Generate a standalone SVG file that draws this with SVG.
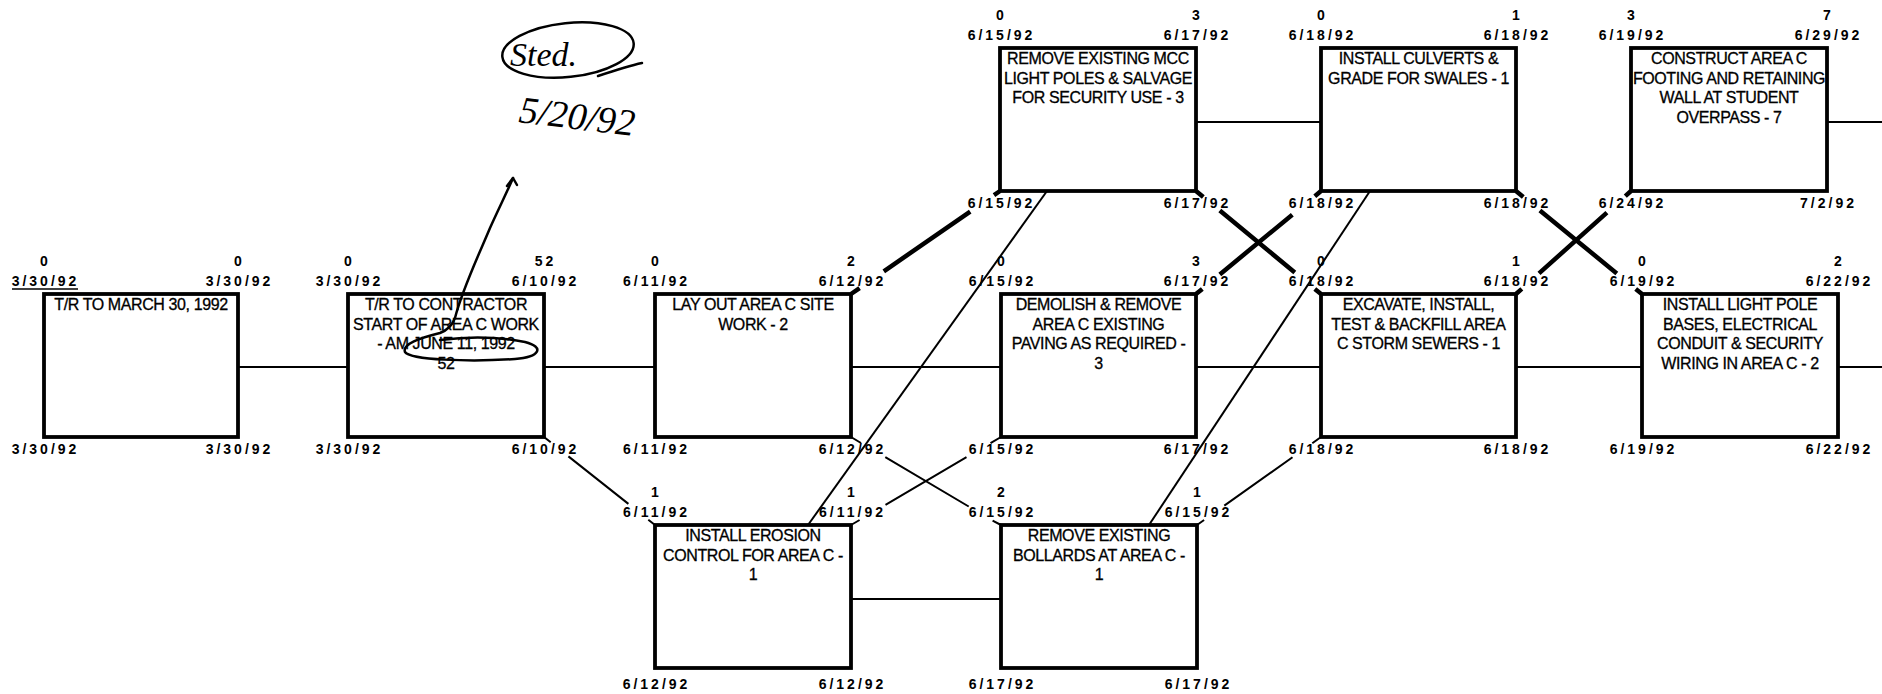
<svg xmlns="http://www.w3.org/2000/svg" width="1882" height="694" viewBox="0 0 1882 694">
<style>
.bg{fill:#fff}
.box{fill:#fff;stroke:#000;stroke-width:3.8}
.t{font-family:"Liberation Sans",Arial,sans-serif;font-size:16px;letter-spacing:-0.4px;text-anchor:middle;fill:#000;stroke:#000;stroke-width:0.3}
.d{font-family:"Liberation Sans",Arial,sans-serif;font-size:14px;font-weight:bold;letter-spacing:3px;text-anchor:middle;fill:#000}
.c{fill:none;stroke:#000;stroke-width:2}
.k{fill:none;stroke:#000;stroke-width:4.5}
.hw{fill:none;stroke:#000;stroke-width:2.5;stroke-linecap:round;stroke-linejoin:round}
.hwt{font-family:"Liberation Serif",serif;font-style:italic;fill:#000}
</style>
<rect class="bg" x="0" y="0" width="1882" height="694"/>

<g id="n1">
<rect class="box" x="44" y="294" width="194" height="143"/>
<text class="t" x="141" y="310">T/R TO MARCH 30, 1992</text>
<text class="d" x="45.5" y="266">0</text><text class="d" x="45.5" y="286">3/30/92</text>
<line x1="12" y1="289" x2="78" y2="289" stroke="#000" stroke-width="1.5"/>
<text class="d" x="239.5" y="266">0</text><text class="d" x="239.5" y="286">3/30/92</text>
<text class="d" x="45.5" y="454">3/30/92</text><text class="d" x="239.5" y="454">3/30/92</text>
</g>

<g id="n2">
<rect class="box" x="348" y="294" width="196" height="143"/>
<text class="t" x="446" y="310">T/R TO CONTRACTOR</text>
<text class="t" x="446" y="329.5">START OF AREA C WORK</text>
<text class="t" x="446" y="349">- AM JUNE 11, 1992</text>
<text class="t" x="446" y="368.5">52</text>
<text class="d" x="349.5" y="266">0</text><text class="d" x="349.5" y="286">3/30/92</text>
<text class="d" x="545.5" y="266">52</text><text class="d" x="545.5" y="286">6/10/92</text>
<text class="d" x="349.5" y="454">3/30/92</text><text class="d" x="545.5" y="454">6/10/92</text>
</g>

<g id="n3">
<rect class="box" x="655" y="294" width="196" height="143"/>
<text class="t" x="753" y="310">LAY OUT AREA C SITE</text>
<text class="t" x="753" y="329.5">WORK - 2</text>
<text class="d" x="656.5" y="266">0</text><text class="d" x="656.5" y="286">6/11/92</text>
<text class="d" x="852.5" y="266">2</text><text class="d" x="852.5" y="286">6/12/92</text>
<text class="d" x="656.5" y="454">6/11/92</text><text class="d" x="852.5" y="454">6/12/92</text>
</g>

<g id="n4">
<rect class="box" x="1001" y="294" width="195" height="143"/>
<text class="t" x="1098.5" y="310">DEMOLISH &amp; REMOVE</text>
<text class="t" x="1098.5" y="329.5">AREA C EXISTING</text>
<text class="t" x="1098.5" y="349">PAVING AS REQUIRED -</text>
<text class="t" x="1098.5" y="368.5">3</text>
<text class="d" x="1002.5" y="266">0</text><text class="d" x="1002.5" y="286">6/15/92</text>
<text class="d" x="1197.5" y="266">3</text><text class="d" x="1197.5" y="286">6/17/92</text>
<text class="d" x="1002.5" y="454">6/15/92</text><text class="d" x="1197.5" y="454">6/17/92</text>
</g>

<g id="n5">
<rect class="box" x="1321" y="294" width="195" height="143"/>
<text class="t" x="1418.5" y="310">EXCAVATE, INSTALL,</text>
<text class="t" x="1418.5" y="329.5">TEST &amp; BACKFILL AREA</text>
<text class="t" x="1418.5" y="349">C STORM SEWERS - 1</text>
<text class="d" x="1322.5" y="266">0</text><text class="d" x="1322.5" y="286">6/18/92</text>
<text class="d" x="1517.5" y="266">1</text><text class="d" x="1517.5" y="286">6/18/92</text>
<text class="d" x="1322.5" y="454">6/18/92</text><text class="d" x="1517.5" y="454">6/18/92</text>
</g>

<g id="n6">
<rect class="box" x="1642" y="294" width="196" height="143"/>
<text class="t" x="1740" y="310">INSTALL LIGHT POLE</text>
<text class="t" x="1740" y="329.5">BASES, ELECTRICAL</text>
<text class="t" x="1740" y="349">CONDUIT &amp; SECURITY</text>
<text class="t" x="1740" y="368.5">WIRING IN AREA C - 2</text>
<text class="d" x="1643.5" y="266">0</text><text class="d" x="1643.5" y="286">6/19/92</text>
<text class="d" x="1839.5" y="266">2</text><text class="d" x="1839.5" y="286">6/22/92</text>
<text class="d" x="1643.5" y="454">6/19/92</text><text class="d" x="1839.5" y="454">6/22/92</text>
</g>

<g id="n7">
<rect class="box" x="1000" y="48" width="196" height="143"/>
<text class="t" x="1098" y="64">REMOVE EXISTING MCC</text>
<text class="t" x="1098" y="83.5">LIGHT POLES &amp; SALVAGE</text>
<text class="t" x="1098" y="103">FOR SECURITY USE - 3</text>
<text class="d" x="1001.5" y="20">0</text><text class="d" x="1001.5" y="40">6/15/92</text>
<text class="d" x="1197.5" y="20">3</text><text class="d" x="1197.5" y="40">6/17/92</text>
<text class="d" x="1001.5" y="208">6/15/92</text><text class="d" x="1197.5" y="208">6/17/92</text>
</g>

<g id="n8">
<rect class="box" x="1321" y="48" width="195" height="143"/>
<text class="t" x="1418.5" y="64">INSTALL CULVERTS &amp;</text>
<text class="t" x="1418.5" y="83.5">GRADE FOR SWALES - 1</text>
<text class="d" x="1322.5" y="20">0</text><text class="d" x="1322.5" y="40">6/18/92</text>
<text class="d" x="1517.5" y="20">1</text><text class="d" x="1517.5" y="40">6/18/92</text>
<text class="d" x="1322.5" y="208">6/18/92</text><text class="d" x="1517.5" y="208">6/18/92</text>
</g>

<g id="n9">
<rect class="box" x="1631" y="48" width="196" height="143"/>
<text class="t" x="1729" y="64">CONSTRUCT AREA C</text>
<text class="t" x="1729" y="83.5">FOOTING AND RETAINING</text>
<text class="t" x="1729" y="103">WALL AT STUDENT</text>
<text class="t" x="1729" y="122.5">OVERPASS - 7</text>
<text class="d" x="1632.5" y="20">3</text><text class="d" x="1632.5" y="40">6/19/92</text>
<text class="d" x="1828.5" y="20">7</text><text class="d" x="1828.5" y="40">6/29/92</text>
<text class="d" x="1632.5" y="208">6/24/92</text><text class="d" x="1828.5" y="208">7/2/92</text>
</g>

<g id="n10">
<rect class="box" x="655" y="525" width="196" height="143"/>
<text class="t" x="753" y="541">INSTALL EROSION</text>
<text class="t" x="753" y="560.5">CONTROL FOR AREA C -</text>
<text class="t" x="753" y="580">1</text>
<text class="d" x="656.5" y="497">1</text><text class="d" x="656.5" y="517">6/11/92</text>
<text class="d" x="852.5" y="497">1</text><text class="d" x="852.5" y="517">6/11/92</text>
<text class="d" x="656.5" y="689">6/12/92</text><text class="d" x="852.5" y="689">6/12/92</text>
</g>

<g id="n11">
<rect class="box" x="1001" y="525" width="196" height="143"/>
<text class="t" x="1099" y="541">REMOVE EXISTING</text>
<text class="t" x="1099" y="560.5">BOLLARDS AT AREA C -</text>
<text class="t" x="1099" y="580">1</text>
<text class="d" x="1002.5" y="497">2</text><text class="d" x="1002.5" y="517">6/15/92</text>
<text class="d" x="1198.5" y="497">1</text><text class="d" x="1198.5" y="517">6/15/92</text>
<text class="d" x="1002.5" y="689">6/17/92</text><text class="d" x="1198.5" y="689">6/17/92</text>
</g>

<g id="connectors">
<line class="c" x1="238" y1="367" x2="348" y2="367"/>
<line class="c" x1="544" y1="367" x2="655" y2="367"/>
<line class="c" x1="851" y1="367" x2="1001" y2="367"/>
<line class="c" x1="1196" y1="367" x2="1321" y2="367"/>
<line class="c" x1="1516" y1="367" x2="1642" y2="367"/>
<line class="c" x1="1838" y1="367" x2="1882" y2="367"/>
<line class="c" x1="1196" y1="122" x2="1321" y2="122"/>
<line class="c" x1="1827" y1="122" x2="1882" y2="122"/>
<line class="c" x1="851" y1="599" x2="1001" y2="599"/>
<path class="c" d="M544,437 L550.7,442.3 M568.4,456.4 L628.4,503.9 M648.3,519.7 L655,525"/>
<path class="k" d="M851,294 L859.6,288.1 M883.8,271.3 L970.2,211.6 M994,195.1 L1000,191"/>
<path class="c" d="M851,437 L861,443 M885.3,457.2 L968.7,506.5 M992.6,520.6 L1001,525"/>
<path class="c" d="M851,525 L859.6,520 M885.5,504.8 L966.5,457.2 M990.5,443.2 L1001,437"/>
<path class="c" d="M808,525 L1047,191"/>
<path class="c" d="M1149,525 L1370,191"/>
<path class="c" d="M1197,525 L1204.1,520 M1224.3,505.6 L1292.5,457.2 M1312.3,443.2 L1321,437"/>
<path class="k" d="M1196,191 L1203.3,197 M1219.8,210.6 L1294.8,272.4 M1314.8,288.9 L1321,294"/>
<path class="k" d="M1196,294 L1202.3,288.9 M1219.8,274.4 L1292.3,214.7 M1314.8,196.2 L1321,191"/>
<path class="k" d="M1516,191 L1523.3,197 M1539.9,210.6 L1616.8,273.4 M1635.7,288.9 L1642,294"/>
<path class="k" d="M1516,294 L1521.8,288.9 M1539,273.4 L1606.9,212.6 M1625.3,196.2 L1631,191"/>
</g>

<g id="annotation">
<ellipse class="hw" cx="568" cy="50" rx="66" ry="27" transform="rotate(-6 568 50)"/>
<path class="hw" d="M598,76 C613,71 628,66 642,63"/>
<text class="hwt" x="510" y="66" font-size="34">Sted.</text>
<text class="hwt" x="518" y="122" font-size="38" transform="rotate(7 518 122)">5/20/92</text>
<path class="hw" d="M513,178 C508,190 498,210 490,228 C480,252 462,290 455,318 C452,326 448,330 440,333 C420,338 402,344 405,352 C410,360 470,362 515,359 C540,357 545,347 525,342 C500,337 470,336 440,340"/>
<path class="hw" d="M507,186 L513,178 L517,185"/>
</g>
</svg>
